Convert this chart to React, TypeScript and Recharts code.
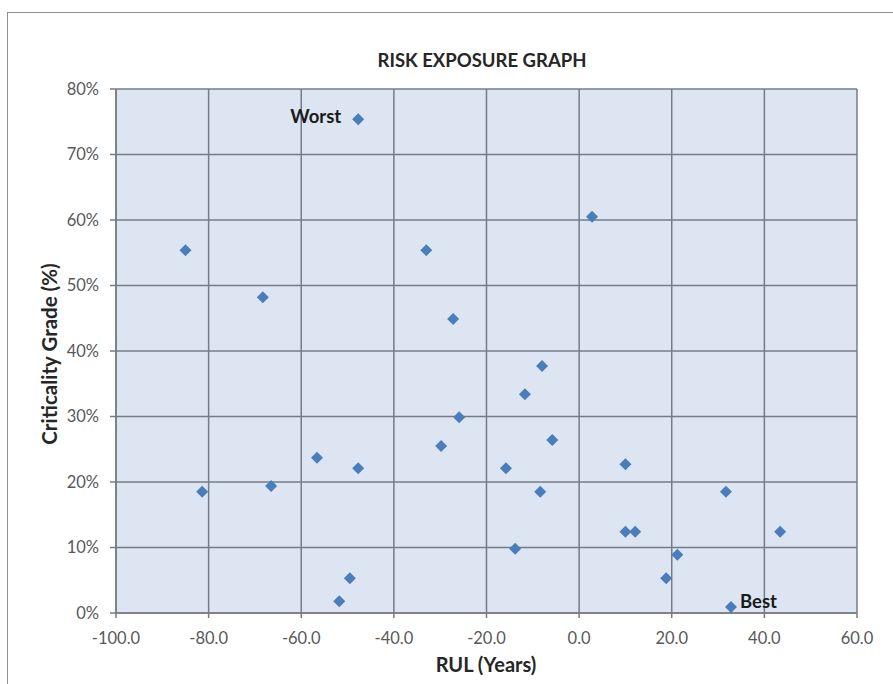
import React from "react";
import { ScatterChart, Scatter, XAxis, YAxis, CartesianGrid } from "recharts";

const rulYears = [-85, -68.3, -47.7, -33, 2.8, -27.2, -8, -11.7, -25.9, -5.8, -29.8, -56.6, -47.7, -15.8, 10, -81.4, -66.5, -8.4, 31.7, 10, 12.1, 43.4, -13.8, 21.2, 18.8, -49.5, -51.8, 32.8];
const criticality = [55.4, 48.2, 75.4, 55.4, 60.5, 44.9, 37.7, 33.4, 29.9, 26.4, 25.5, 23.7, 22.1, 22.1, 22.7, 18.5, 19.4, 18.5, 18.5, 12.4, 12.4, 12.4, 9.8, 8.9, 5.3, 5.3, 1.8, 0.9];
const tags = ["", "", "Worst", "", "", "", "", "", "", "", "", "", "", "", "", "", "", "", "", "", "", "", "", "", "", "", "", "Best"];
const xTicks = [-100, -80, -60, -40, -20, 0, 20, 40, 60];
const yTicks = [0, 10, 20, 30, 40, 50, 60, 70, 80];

const data = rulYears.map((x, i) => ({ x, y: criticality[i], tag: tags[i] }));

const FONT = "Lato, 'Open Sans', sans-serif";
const GRID = "#767c86";

const Marker = (props: any) => {
  const { cx, cy, payload } = props;
  const s = 6;
  return (
    <g>
      <polygon
        points={`${cx},${cy - s} ${cx + s},${cy} ${cx},${cy + s} ${cx - s},${cy}`}
        fill="#4a7ebb"
      />
      {payload.tag === "Worst" && (
        <text x={cx - 17} y={cy - 3} textAnchor="end" dominantBaseline="central" fontFamily={FONT} fontWeight={700} fontSize={18.5} fill="#1a1a1a">
          {payload.tag}
        </text>
      )}
      {payload.tag === "Best" && (
        <text x={cx + 9} y={cy - 6} textAnchor="start" dominantBaseline="central" fontFamily={FONT} fontWeight={700} fontSize={18.5} fill="#1a1a1a">
          {payload.tag}
        </text>
      )}
    </g>
  );
};

export default function App() {
  return (
    <div style={{ position: "absolute", left: 0, top: 0, width: 893, height: 684, background: "#fff", fontFamily: FONT }}>
      <div style={{ position: "absolute", left: 7, top: 12, width: 886, height: 672, borderTop: "1.5px solid #8f8f8f", borderLeft: "1.5px solid #8f8f8f" }} />
      <div style={{ position: "absolute", left: 0, top: 49, width: 964, textAlign: "center", fontWeight: 700, fontSize: 18.5, color: "#262626" }}>
        RISK EXPOSURE GRAPH
      </div>
      <div style={{ position: "absolute", left: 0, top: 652, width: 972, textAlign: "center", fontWeight: 700, fontSize: 20, color: "#262626" }}>
        RUL (Years)
      </div>
      <div style={{ position: "absolute", left: 49, top: 354, transform: "translate(-50%, -50%) rotate(-90deg)", whiteSpace: "nowrap", fontWeight: 700, fontSize: 20.5, color: "#262626" }}>
        Criticality Grade (%)
      </div>
      <div style={{ position: "absolute", left: 0, top: 0 }}>
        <ScatterChart width={893} height={684} margin={{ top: 89, right: 36, left: 56, bottom: 31 }}>
          <CartesianGrid fill="#dce5f1" stroke={GRID} strokeWidth={1.5} />
          <XAxis
            type="number"
            dataKey="x"
            domain={[-100, 60]}
            ticks={xTicks}
            interval={0}
            height={40}
            tickFormatter={(v: number) => v.toFixed(1)}
            tick={{ fill: "#595959", fontSize: 16.5, fontFamily: FONT }}
            tickSize={5}
            tickMargin={14}
            stroke={GRID}
            strokeWidth={1.5}
            allowDataOverflow
          />
          <YAxis
            type="number"
            dataKey="y"
            domain={[0, 80]}
            ticks={yTicks}
            interval={0}
            width={60}
            tickFormatter={(v: number) => `${v}%`}
            tick={{ fill: "#595959", fontSize: 16.5, fontFamily: FONT }}
            tickSize={6}
            tickMargin={11}
            stroke={GRID}
            strokeWidth={1.5}
            allowDataOverflow
          />
          <Scatter data={data} shape={Marker} isAnimationActive={false} />
        </ScatterChart>
      </div>
    </div>
  );
}
